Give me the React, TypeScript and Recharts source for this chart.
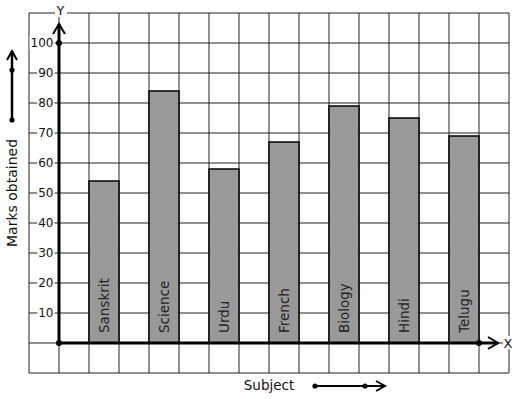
import React from 'react';
import { BarChart, Bar, XAxis, YAxis, CartesianGrid, ReferenceLine, LabelList } from 'recharts';

const subjects = ['Sanskrit', 'Science', 'Urdu', 'French', 'Biology', 'Hindi', 'Telugu'];
const marks = [54, 84, 58, 67, 79, 75, 69];
const yTicks = [-10, 0, 10, 20, 30, 40, 50, 60, 70, 80, 90, 100, 110];
const yLabelled = [10, 20, 30, 40, 50, 60, 70, 80, 90, 100];

const SLOTS = 16;
const data = Array.from({ length: SLOTS }, (_, k) => {
  const i = (k - 2) / 2;
  if (k >= 2 && k % 2 === 0 && i < subjects.length) return { name: subjects[i], marks: marks[i] };
  return { name: `_${k}`, marks: null };
});

const FONT = '"DejaVu Sans", sans-serif';

const verticalGen = (args: any) => {
  const o = args.offset;
  let r0 = o.left;
  let r1 = o.left + o.width;
  let n = data.length;
  try {
    const sc = args.xAxis && args.xAxis.scale;
    if (sc && typeof sc.range === 'function' && typeof sc.domain === 'function') {
      const r = sc.range();
      const d = sc.domain();
      if (r && r.length === 2 && d && d.length) {
        r0 = Math.min(r[0], r[1]);
        r1 = Math.max(r[0], r[1]);
        n = d.length;
      }
    }
  } catch (e) {
    /* fall back to offsets */
  }
  return Array.from({ length: n + 1 }, (_, i) => r0 + (i * (r1 - r0)) / n);
};

const YTick = (props: any) => {
  const { x, y, payload } = props;
  const v = payload.value;
  if (!yLabelled.includes(v)) return null;
  const s = String(v);
  const w = s.length * 7.63 + 2;
  const right = Number(x) + 24.5;
  return (
    <g>
      <rect x={right - w + 1} y={y - 7} width={w} height={14} fill="#fff" />
      <text x={right} y={y} textAnchor="end" dominantBaseline="central" fontSize={12} fontFamily={FONT} fill="#111">
        {s}
      </text>
    </g>
  );
};

const YTitle = (props: any) => {
  const vb = props.viewBox || {};
  const cx = vb.x + 12;
  const cy = vb.y + vb.height / 2;
  const top = vb.y;
  return (
    <g>
      <text x={cx} y={cy} transform={`rotate(-90 ${cx} ${cy})`} textAnchor="middle" dominantBaseline="central" fontSize={14} fontFamily={FONT} fill="#111">
        Marks obtained
      </text>
      <line x1={cx} y1={top + 107} x2={cx} y2={top + 38} stroke="#000" strokeWidth={2.5} />
      <polyline points={`${cx - 5},${top + 47} ${cx},${top + 38} ${cx + 5},${top + 47}`} fill="none" stroke="#000" strokeWidth={2} />
      <circle cx={cx} cy={top + 57} r={2.6} fill="#000" />
      <circle cx={cx} cy={top + 107} r={2.6} fill="#000" />
    </g>
  );
};

const XTitle = (props: any) => {
  const vb = props.viewBox || {};
  const cx = vb.x + vb.width / 2;
  const cy = vb.y + 12;
  const ay = cy + 1;
  return (
    <g>
      <text x={cx} y={cy} textAnchor="middle" dominantBaseline="central" fontSize={13.5} fontFamily={FONT} fill="#111">
        Subject
      </text>
      <line x1={cx + 46} y1={ay} x2={cx + 116} y2={ay} stroke="#000" strokeWidth={2} />
      <polyline points={`${cx + 107},${ay - 5} ${cx + 116},${ay} ${cx + 107},${ay + 5}`} fill="none" stroke="#000" strokeWidth={2} />
      <circle cx={cx + 46} cy={ay} r={2.6} fill="#000" />
      <circle cx={cx + 96} cy={ay} r={2.6} fill="#000" />
    </g>
  );
};

const BarLabel = (props: any) => {
  const { x, y, width, height, value } = props;
  if (!value || String(value).startsWith('_')) return null;
  const cx = Number(x) + Number(width) / 2;
  const by = Number(y) + Number(height) - 10;
  return (
    <text x={cx} y={by} transform={`rotate(-90 ${cx} ${by})`} textAnchor="start" dominantBaseline="central" fontSize={13.5} fontFamily={FONT} fill="#222">
      {value}
    </text>
  );
};

const XAxisShape = (props: any) => {
  const { x1, y1, x2, y2 } = props;
  const tip = x2 + 19;
  return (
    <g>
      <line x1={x1} y1={y1} x2={tip} y2={y2} stroke="#000" strokeWidth={3} />
      <polyline points={`${tip - 10},${y2 - 6} ${tip},${y2} ${tip - 10},${y2 + 6}`} fill="none" stroke="#000" strokeWidth={2} />
      <circle cx={x1} cy={y1} r={3} fill="#000" />
      <circle cx={x2} cy={y2} r={3} fill="#000" />
      <rect x={tip + 5} y={y2 - 7} width={11} height={13} fill="#fff" />
      <text x={tip + 10} y={y2} textAnchor="middle" dominantBaseline="central" fontSize={13} fontFamily={FONT} fill="#111">X</text>
    </g>
  );
};

const YAxisShape = (props: any) => {
  const { x1, y1, x2, y2 } = props;
  const topY = Math.min(y1, y2);
  const bottomY = Math.max(y1, y2);
  const tipY = topY - 19;
  return (
    <g>
      <line x1={x1} y1={bottomY} x2={x2} y2={tipY} stroke="#000" strokeWidth={3} />
      <polyline points={`${x1 - 6},${tipY + 10} ${x1},${tipY} ${x1 + 6},${tipY + 10}`} fill="none" stroke="#000" strokeWidth={2} />
      <circle cx={x1} cy={topY} r={3} fill="#000" />
      <rect x={x1 - 4} y={tipY - 20} width={12} height={13} fill="#fff" />
      <text x={x1 + 1.5} y={tipY - 14} textAnchor="middle" dominantBaseline="central" fontSize={13} fontFamily={FONT} fill="#111">Y</text>
    </g>
  );
};

export default function App() {
  return (
    <div style={{ position: 'absolute', left: 0, top: 0, background: '#fff' }}>
      <BarChart
        width={517}
        height={399}
        data={data}
        margin={{ top: 13, right: 8, bottom: 0, left: 0 }}
        barCategoryGap={0}
        barGap={0}
      >
        <XAxis dataKey="name" height={26} axisLine={false} tickLine={false} tick={false} label={<XTitle />} />
        <YAxis
          type="number"
          domain={[-10, 110]}
          ticks={yTicks}
          interval={0}
          allowDataOverflow
          width={29}
          axisLine={false}
          tickLine={false}
          tickSize={0}
          tickMargin={0}
          tick={<YTick />}
          label={<YTitle />}
        />
        <CartesianGrid stroke="#222" strokeWidth={1} verticalCoordinatesGenerator={verticalGen} />
        <Bar dataKey="marks" fill="#999999" stroke="#000" strokeWidth={1.5} isAnimationActive={false}>
          <LabelList dataKey="name" content={<BarLabel />} />
        </Bar>
        <ReferenceLine
          segment={[{ x: '_1', y: 0 }, { x: '_15', y: 0 }]}
          position="start"
          ifOverflow="visible"
          shape={<XAxisShape />}
        />
        <ReferenceLine
          segment={[{ x: '_1', y: 0 }, { x: '_1', y: 100 }]}
          position="start"
          ifOverflow="visible"
          shape={<YAxisShape />}
        />
      </BarChart>
    </div>
  );
}
